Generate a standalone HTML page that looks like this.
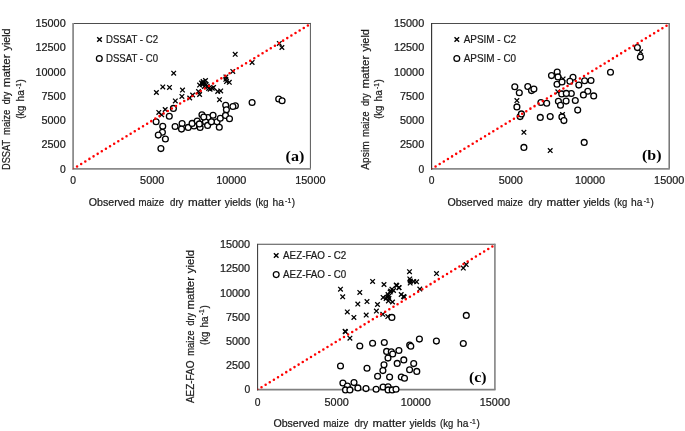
<!DOCTYPE html>
<html><head><meta charset="utf-8"><title>fig</title>
<style>html,body{margin:0;padding:0;background:#fff}svg{display:block}</style></head><body>
<svg width="685" height="431" viewBox="0 0 685 431">
<rect width="685" height="431" fill="#fff"/>
<g opacity="0.999">
<g id="plot-a">
<path d="M73.1 23.4H310.79999999999995" fill="none" stroke="#4d4d4d" stroke-width="1.05"/>
<path d="M310.4 22.9V168.85" fill="none" stroke="#555" stroke-width="1.0"/>
<path d="M72.6 168.85H311.0" fill="none" stroke="#8a8a8a" stroke-width="1.75"/>
<path d="M73.1 22.9V169.65" fill="none" stroke="#8c8c8c" stroke-width="1.8"/>
<text x="65.69999999999999" y="172.6" font-size="10.3" font-family="Liberation Sans, sans-serif" text-anchor="end" fill="#1a1a1a" stroke="#1a1a1a" stroke-width="0.22">0</text>
<text x="65.69999999999999" y="148.36" font-size="10.3" font-family="Liberation Sans, sans-serif" text-anchor="end" fill="#1a1a1a" stroke="#1a1a1a" stroke-width="0.22" textLength="24.16" lengthAdjust="spacingAndGlyphs">2500</text>
<text x="65.69999999999999" y="124.12" font-size="10.3" font-family="Liberation Sans, sans-serif" text-anchor="end" fill="#1a1a1a" stroke="#1a1a1a" stroke-width="0.22" textLength="24.16" lengthAdjust="spacingAndGlyphs">5000</text>
<text x="65.69999999999999" y="99.88" font-size="10.3" font-family="Liberation Sans, sans-serif" text-anchor="end" fill="#1a1a1a" stroke="#1a1a1a" stroke-width="0.22" textLength="24.16" lengthAdjust="spacingAndGlyphs">7500</text>
<text x="65.69999999999999" y="75.63" font-size="10.3" font-family="Liberation Sans, sans-serif" text-anchor="end" fill="#1a1a1a" stroke="#1a1a1a" stroke-width="0.22" textLength="30.2" lengthAdjust="spacingAndGlyphs">10000</text>
<text x="65.69999999999999" y="51.39" font-size="10.3" font-family="Liberation Sans, sans-serif" text-anchor="end" fill="#1a1a1a" stroke="#1a1a1a" stroke-width="0.22" textLength="30.2" lengthAdjust="spacingAndGlyphs">12500</text>
<text x="65.69999999999999" y="27.15" font-size="10.3" font-family="Liberation Sans, sans-serif" text-anchor="end" fill="#1a1a1a" stroke="#1a1a1a" stroke-width="0.22" textLength="30.2" lengthAdjust="spacingAndGlyphs">15000</text>
<text x="73.1" y="184.0" font-size="10.3" font-family="Liberation Sans, sans-serif" text-anchor="middle" fill="#1a1a1a" stroke="#1a1a1a" stroke-width="0.22">0</text>
<text x="152.2" y="184.0" font-size="10.3" font-family="Liberation Sans, sans-serif" text-anchor="middle" fill="#1a1a1a" stroke="#1a1a1a" stroke-width="0.22" textLength="24.16" lengthAdjust="spacingAndGlyphs">5000</text>
<text x="231.3" y="184.0" font-size="10.3" font-family="Liberation Sans, sans-serif" text-anchor="middle" fill="#1a1a1a" stroke="#1a1a1a" stroke-width="0.22" textLength="30.2" lengthAdjust="spacingAndGlyphs">10000</text>
<text x="310.4" y="184.0" font-size="10.3" font-family="Liberation Sans, sans-serif" text-anchor="middle" fill="#1a1a1a" stroke="#1a1a1a" stroke-width="0.22" textLength="30.2" lengthAdjust="spacingAndGlyphs">15000</text>
<g fill="none" stroke="#000" stroke-width="1.3">
<path d="M154.10 90.20L158.70 94.80M154.10 94.80L158.70 90.20"/>
<path d="M160.50 84.60L165.10 89.20M160.50 89.20L165.10 84.60"/>
<path d="M167.20 85.10L171.80 89.70M167.20 89.70L171.80 85.10"/>
<path d="M171.40 70.90L176.00 75.50M171.40 75.50L176.00 70.90"/>
<path d="M180.20 87.80L184.80 92.40M180.20 92.40L184.80 87.80"/>
<path d="M179.60 94.10L184.20 98.70M179.60 98.70L184.20 94.10"/>
<path d="M173.00 98.60L177.60 103.20M173.00 103.20L177.60 98.60"/>
<path d="M162.90 107.20L167.50 111.80M162.90 111.80L167.50 107.20"/>
<path d="M156.50 110.10L161.10 114.70M156.50 114.70L161.10 110.10"/>
<path d="M159.40 112.50L164.00 117.10M159.40 117.10L164.00 112.50"/>
<path d="M187.40 95.70L192.00 100.30M187.40 100.30L192.00 95.70"/>
<path d="M190.30 92.70L194.90 97.30M190.30 97.30L194.90 92.70"/>
<path d="M197.30 92.20L201.90 96.80M197.30 96.80L201.90 92.20"/>
<path d="M196.20 89.20L200.80 93.80M196.20 93.80L200.80 89.20"/>
<path d="M197.30 82.80L201.90 87.40M197.30 87.40L201.90 82.80"/>
<path d="M200.80 79.30L205.40 83.90M200.80 83.90L205.40 79.30"/>
<path d="M202.60 81.10L207.20 85.70M202.60 85.70L207.20 81.10"/>
<path d="M204.90 84.00L209.50 88.60M204.90 88.60L209.50 84.00"/>
<path d="M207.80 86.90L212.40 91.50M207.80 91.50L212.40 86.90"/>
<path d="M211.30 85.10L215.90 89.70M211.30 89.70L215.90 85.10"/>
<path d="M215.40 89.20L220.00 93.80M215.40 93.80L220.00 89.20"/>
<path d="M218.40 88.60L223.00 93.20M218.40 93.20L223.00 88.60"/>
<path d="M217.20 97.40L221.80 102.00M217.20 102.00L221.80 97.40"/>
<path d="M223.60 74.60L228.20 79.20M223.60 79.20L228.20 74.60"/>
<path d="M224.20 79.30L228.80 83.90M224.20 83.90L228.80 79.30"/>
<path d="M227.00 80.00L231.60 84.60M227.00 84.60L231.60 80.00"/>
<path d="M230.50 69.10L235.10 73.70M230.50 73.70L235.10 69.10"/>
<path d="M232.90 52.00L237.50 56.60M232.90 56.60L237.50 52.00"/>
<path d="M249.80 60.10L254.40 64.70M249.80 64.70L254.40 60.10"/>
<path d="M277.00 41.10L281.60 45.70M277.00 45.70L281.60 41.10"/>
<path d="M279.60 45.20L284.20 49.80M279.60 49.80L284.20 45.20"/>
<path d="M199.20 80.70L203.80 85.30M199.20 85.30L203.80 80.70"/>
<path d="M203.20 78.20L207.80 82.80M203.20 82.80L207.80 78.20"/>
<path d="M200.30 81.90L204.90 86.50M200.30 86.50L204.90 81.90"/>
<path d="M202.10 84.10L206.70 88.70M202.10 88.70L206.70 84.10"/>
<path d="M203.90 82.30L208.50 86.90M203.90 86.90L208.50 82.30"/>
<path d="M210.00 85.90L214.60 90.50M210.00 90.50L214.60 85.90"/>
<path d="M206.30 86.10L210.90 90.70M206.30 90.70L210.90 86.10"/>
<path d="M200.90 80.50L205.50 85.10M200.90 85.10L205.50 80.50"/>
<path d="M223.50 77.00L228.10 81.60M223.50 81.60L228.10 77.00"/>
</g>
<g fill="#fff" stroke="#000" stroke-width="1.3">
<circle cx="173.40" cy="108.40" r="2.92"/>
<circle cx="169.30" cy="116.30" r="2.92"/>
<circle cx="156.10" cy="121.80" r="2.92"/>
<circle cx="162.75" cy="126.30" r="2.92"/>
<circle cx="162.40" cy="132.20" r="2.92"/>
<circle cx="158.30" cy="135.10" r="2.92"/>
<circle cx="175.10" cy="126.50" r="2.92"/>
<circle cx="182.10" cy="123.50" r="2.92"/>
<circle cx="181.50" cy="129.10" r="2.92"/>
<circle cx="188.20" cy="127.40" r="2.92"/>
<circle cx="194.00" cy="126.00" r="2.92"/>
<circle cx="192.10" cy="123.40" r="2.92"/>
<circle cx="197.20" cy="121.10" r="2.92"/>
<circle cx="201.95" cy="114.70" r="2.92"/>
<circle cx="208.00" cy="117.50" r="2.92"/>
<circle cx="205.40" cy="121.70" r="2.92"/>
<circle cx="217.05" cy="121.80" r="2.92"/>
<circle cx="200.10" cy="127.40" r="2.92"/>
<circle cx="207.60" cy="125.40" r="2.92"/>
<circle cx="203.75" cy="117.10" r="2.92"/>
<circle cx="213.05" cy="115.30" r="2.92"/>
<circle cx="211.40" cy="121.85" r="2.92"/>
<circle cx="199.35" cy="123.90" r="2.92"/>
<circle cx="220.30" cy="118.20" r="2.92"/>
<circle cx="219.30" cy="127.20" r="2.92"/>
<circle cx="225.70" cy="105.20" r="2.92"/>
<circle cx="226.40" cy="109.70" r="2.92"/>
<circle cx="225.50" cy="115.40" r="2.92"/>
<circle cx="229.50" cy="118.70" r="2.92"/>
<circle cx="235.40" cy="105.70" r="2.92"/>
<circle cx="232.90" cy="106.50" r="2.92"/>
<circle cx="252.10" cy="102.50" r="2.92"/>
<circle cx="278.70" cy="99.00" r="2.92"/>
<circle cx="282.10" cy="100.80" r="2.92"/>
<circle cx="165.40" cy="139.00" r="2.92"/>
<circle cx="160.90" cy="148.60" r="2.92"/>
</g>
<clipPath id="cp-a"><rect x="73.1" y="23.4" width="237.30" height="145.45"/></clipPath>
<path clip-path="url(#cp-a)" d="M72.95 168.95L310.40 24.00" fill="none" stroke="#ff0000" stroke-width="2.55" stroke-linecap="round" stroke-dasharray="0 4.829"/>
<g fill="none" stroke="#000" stroke-width="1.4"><path d="M97.20 37.20L101.80 41.80M97.20 41.80L101.80 37.20"/></g>
<text x="106.0" y="42.7" font-size="10.5" font-family="Liberation Sans, sans-serif" text-anchor="start" fill="#1a1a1a" stroke="#1a1a1a" stroke-width="0.22" textLength="52.0" lengthAdjust="spacingAndGlyphs">DSSAT - C2</text>
<g fill="none" stroke="#000" stroke-width="1.25"><circle cx="99.30" cy="58.50" r="2.9"/></g>
<text x="106.0" y="61.8" font-size="10.5" font-family="Liberation Sans, sans-serif" text-anchor="start" fill="#1a1a1a" stroke="#1a1a1a" stroke-width="0.22" textLength="52.0" lengthAdjust="spacingAndGlyphs">DSSAT - C0</text>
<text x="285.59999999999997" y="160.85" font-size="15.4" font-family="Liberation Serif, sans-serif" text-anchor="start" fill="#000" font-weight="bold" textLength="18.8" lengthAdjust="spacingAndGlyphs">(a)</text>
</g>
<g id="plot-b">
<path d="M431.6 23.5H669.6" fill="none" stroke="#4d4d4d" stroke-width="1.05"/>
<path d="M669.2 23.0V168.85" fill="none" stroke="#6e6e6e" stroke-width="1.45"/>
<path d="M431.1 168.85H669.8000000000001" fill="none" stroke="#8a8a8a" stroke-width="1.75"/>
<path d="M431.6 23.0V169.65" fill="none" stroke="#333333" stroke-width="1.15"/>
<text x="424.20000000000005" y="172.6" font-size="10.3" font-family="Liberation Sans, sans-serif" text-anchor="end" fill="#1a1a1a" stroke="#1a1a1a" stroke-width="0.22">0</text>
<text x="424.20000000000005" y="148.38" font-size="10.3" font-family="Liberation Sans, sans-serif" text-anchor="end" fill="#1a1a1a" stroke="#1a1a1a" stroke-width="0.22" textLength="24.16" lengthAdjust="spacingAndGlyphs">2500</text>
<text x="424.20000000000005" y="124.15" font-size="10.3" font-family="Liberation Sans, sans-serif" text-anchor="end" fill="#1a1a1a" stroke="#1a1a1a" stroke-width="0.22" textLength="24.16" lengthAdjust="spacingAndGlyphs">5000</text>
<text x="424.20000000000005" y="99.92" font-size="10.3" font-family="Liberation Sans, sans-serif" text-anchor="end" fill="#1a1a1a" stroke="#1a1a1a" stroke-width="0.22" textLength="24.16" lengthAdjust="spacingAndGlyphs">7500</text>
<text x="424.20000000000005" y="75.7" font-size="10.3" font-family="Liberation Sans, sans-serif" text-anchor="end" fill="#1a1a1a" stroke="#1a1a1a" stroke-width="0.22" textLength="30.2" lengthAdjust="spacingAndGlyphs">10000</text>
<text x="424.20000000000005" y="51.47" font-size="10.3" font-family="Liberation Sans, sans-serif" text-anchor="end" fill="#1a1a1a" stroke="#1a1a1a" stroke-width="0.22" textLength="30.2" lengthAdjust="spacingAndGlyphs">12500</text>
<text x="424.20000000000005" y="27.25" font-size="10.3" font-family="Liberation Sans, sans-serif" text-anchor="end" fill="#1a1a1a" stroke="#1a1a1a" stroke-width="0.22" textLength="30.2" lengthAdjust="spacingAndGlyphs">15000</text>
<text x="431.6" y="184.0" font-size="10.3" font-family="Liberation Sans, sans-serif" text-anchor="middle" fill="#1a1a1a" stroke="#1a1a1a" stroke-width="0.22">0</text>
<text x="510.8" y="184.0" font-size="10.3" font-family="Liberation Sans, sans-serif" text-anchor="middle" fill="#1a1a1a" stroke="#1a1a1a" stroke-width="0.22" textLength="24.16" lengthAdjust="spacingAndGlyphs">5000</text>
<text x="590.0" y="184.0" font-size="10.3" font-family="Liberation Sans, sans-serif" text-anchor="middle" fill="#1a1a1a" stroke="#1a1a1a" stroke-width="0.22" textLength="30.2" lengthAdjust="spacingAndGlyphs">10000</text>
<text x="669.2" y="184.0" font-size="10.3" font-family="Liberation Sans, sans-serif" text-anchor="middle" fill="#1a1a1a" stroke="#1a1a1a" stroke-width="0.22" textLength="30.2" lengthAdjust="spacingAndGlyphs">15000</text>
<g fill="none" stroke="#000" stroke-width="1.3">
<path d="M514.60 98.30L519.20 102.90M514.60 102.90L519.20 98.30"/>
<path d="M555.50 89.50L560.10 94.10M555.50 94.10L560.10 89.50"/>
<path d="M560.80 76.60L565.40 81.20M560.80 81.20L565.40 76.60"/>
<path d="M521.60 130.00L526.20 134.60M521.60 134.60L526.20 130.00"/>
<path d="M547.90 148.30L552.50 152.90M547.90 152.90L552.50 148.30"/>
<path d="M560.20 112.20L564.80 116.80M560.20 116.80L564.80 112.20"/>
<path d="M638.30 49.50L642.90 54.10M638.30 54.10L642.90 49.50"/>
</g>
<g fill="#fff" stroke="#000" stroke-width="1.3">
<circle cx="514.80" cy="86.80" r="2.92"/>
<circle cx="519.30" cy="92.80" r="2.92"/>
<circle cx="527.80" cy="86.50" r="2.92"/>
<circle cx="531.50" cy="90.60" r="2.92"/>
<circle cx="533.90" cy="89.10" r="2.92"/>
<circle cx="551.50" cy="75.60" r="2.92"/>
<circle cx="557.20" cy="72.00" r="2.92"/>
<circle cx="558.00" cy="76.90" r="2.92"/>
<circle cx="557.00" cy="84.30" r="2.92"/>
<circle cx="562.00" cy="82.00" r="2.92"/>
<circle cx="573.00" cy="77.30" r="2.92"/>
<circle cx="569.90" cy="81.20" r="2.92"/>
<circle cx="578.80" cy="85.10" r="2.92"/>
<circle cx="561.70" cy="93.90" r="2.92"/>
<circle cx="571.30" cy="93.50" r="2.92"/>
<circle cx="566.30" cy="93.40" r="2.92"/>
<circle cx="558.40" cy="101.20" r="2.92"/>
<circle cx="566.10" cy="101.10" r="2.92"/>
<circle cx="575.30" cy="100.50" r="2.92"/>
<circle cx="540.90" cy="102.50" r="2.92"/>
<circle cx="546.70" cy="103.30" r="2.92"/>
<circle cx="516.90" cy="106.90" r="2.92"/>
<circle cx="520.10" cy="116.60" r="2.92"/>
<circle cx="521.40" cy="113.90" r="2.92"/>
<circle cx="540.30" cy="117.40" r="2.92"/>
<circle cx="550.20" cy="116.60" r="2.92"/>
<circle cx="560.50" cy="105.20" r="2.92"/>
<circle cx="577.70" cy="110.10" r="2.92"/>
<circle cx="561.90" cy="116.90" r="2.92"/>
<circle cx="563.90" cy="120.60" r="2.92"/>
<circle cx="584.60" cy="80.70" r="2.92"/>
<circle cx="591.00" cy="80.50" r="2.92"/>
<circle cx="610.50" cy="72.20" r="2.92"/>
<circle cx="587.80" cy="91.20" r="2.92"/>
<circle cx="583.40" cy="94.90" r="2.92"/>
<circle cx="593.70" cy="95.90" r="2.92"/>
<circle cx="637.40" cy="47.60" r="2.92"/>
<circle cx="640.40" cy="57.10" r="2.92"/>
<circle cx="584.20" cy="142.40" r="2.92"/>
<circle cx="523.90" cy="147.40" r="2.92"/>
</g>
<clipPath id="cp-b"><rect x="431.6" y="23.5" width="237.60" height="145.35"/></clipPath>
<path clip-path="url(#cp-b)" d="M431.45 168.95L669.20 24.10" fill="none" stroke="#ff0000" stroke-width="2.55" stroke-linecap="round" stroke-dasharray="0 4.829"/>
<g fill="none" stroke="#000" stroke-width="1.4"><path d="M454.50 37.20L459.10 41.80M454.50 41.80L459.10 37.20"/></g>
<text x="463.65" y="42.7" font-size="10.5" font-family="Liberation Sans, sans-serif" text-anchor="start" fill="#1a1a1a" stroke="#1a1a1a" stroke-width="0.22" textLength="52.5" lengthAdjust="spacingAndGlyphs">APSIM - C2</text>
<g fill="none" stroke="#000" stroke-width="1.25"><circle cx="456.80" cy="58.50" r="2.9"/></g>
<text x="463.65" y="61.8" font-size="10.5" font-family="Liberation Sans, sans-serif" text-anchor="start" fill="#1a1a1a" stroke="#1a1a1a" stroke-width="0.22" textLength="52.5" lengthAdjust="spacingAndGlyphs">APSIM - C0</text>
<text x="642.0" y="160.35" font-size="15.4" font-family="Liberation Serif, sans-serif" text-anchor="start" fill="#000" font-weight="bold" textLength="19.5" lengthAdjust="spacingAndGlyphs">(b)</text>
</g>
<g id="plot-c">
<path d="M257.55 244.3H495.29999999999995" fill="none" stroke="#4d4d4d" stroke-width="1.05"/>
<path d="M494.9 243.8V389.65" fill="none" stroke="#8a8a8a" stroke-width="1.7"/>
<path d="M257.05 389.65H495.5" fill="none" stroke="#808080" stroke-width="1.7"/>
<path d="M257.55 243.8V390.45" fill="none" stroke="#444444" stroke-width="1.15"/>
<text x="250.15" y="393.4" font-size="10.3" font-family="Liberation Sans, sans-serif" text-anchor="end" fill="#1a1a1a" stroke="#1a1a1a" stroke-width="0.22">0</text>
<text x="250.15" y="369.17" font-size="10.3" font-family="Liberation Sans, sans-serif" text-anchor="end" fill="#1a1a1a" stroke="#1a1a1a" stroke-width="0.22" textLength="24.16" lengthAdjust="spacingAndGlyphs">2500</text>
<text x="250.15" y="344.95" font-size="10.3" font-family="Liberation Sans, sans-serif" text-anchor="end" fill="#1a1a1a" stroke="#1a1a1a" stroke-width="0.22" textLength="24.16" lengthAdjust="spacingAndGlyphs">5000</text>
<text x="250.15" y="320.73" font-size="10.3" font-family="Liberation Sans, sans-serif" text-anchor="end" fill="#1a1a1a" stroke="#1a1a1a" stroke-width="0.22" textLength="24.16" lengthAdjust="spacingAndGlyphs">7500</text>
<text x="250.15" y="296.5" font-size="10.3" font-family="Liberation Sans, sans-serif" text-anchor="end" fill="#1a1a1a" stroke="#1a1a1a" stroke-width="0.22" textLength="30.2" lengthAdjust="spacingAndGlyphs">10000</text>
<text x="250.15" y="272.28" font-size="10.3" font-family="Liberation Sans, sans-serif" text-anchor="end" fill="#1a1a1a" stroke="#1a1a1a" stroke-width="0.22" textLength="30.2" lengthAdjust="spacingAndGlyphs">12500</text>
<text x="250.15" y="248.05" font-size="10.3" font-family="Liberation Sans, sans-serif" text-anchor="end" fill="#1a1a1a" stroke="#1a1a1a" stroke-width="0.22" textLength="30.2" lengthAdjust="spacingAndGlyphs">15000</text>
<text x="257.55" y="405.65" font-size="10.3" font-family="Liberation Sans, sans-serif" text-anchor="middle" fill="#1a1a1a" stroke="#1a1a1a" stroke-width="0.22">0</text>
<text x="336.67" y="405.65" font-size="10.3" font-family="Liberation Sans, sans-serif" text-anchor="middle" fill="#1a1a1a" stroke="#1a1a1a" stroke-width="0.22" textLength="24.16" lengthAdjust="spacingAndGlyphs">5000</text>
<text x="415.78" y="405.65" font-size="10.3" font-family="Liberation Sans, sans-serif" text-anchor="middle" fill="#1a1a1a" stroke="#1a1a1a" stroke-width="0.22" textLength="30.2" lengthAdjust="spacingAndGlyphs">10000</text>
<text x="494.9" y="405.65" font-size="10.3" font-family="Liberation Sans, sans-serif" text-anchor="middle" fill="#1a1a1a" stroke="#1a1a1a" stroke-width="0.22" textLength="30.2" lengthAdjust="spacingAndGlyphs">15000</text>
<g fill="none" stroke="#000" stroke-width="1.3">
<path d="M338.20 286.90L342.80 291.50M338.20 291.50L342.80 286.90"/>
<path d="M340.40 294.50L345.00 299.10M340.40 299.10L345.00 294.50"/>
<path d="M357.50 290.10L362.10 294.70M357.50 294.70L362.10 290.10"/>
<path d="M355.50 301.80L360.10 306.40M355.50 306.40L360.10 301.80"/>
<path d="M364.70 299.30L369.30 303.90M364.70 303.90L369.30 299.30"/>
<path d="M370.30 279.10L374.90 283.70M370.30 283.70L374.90 279.10"/>
<path d="M381.70 282.20L386.30 286.80M381.70 286.80L386.30 282.20"/>
<path d="M375.20 302.20L379.80 306.80M375.20 306.80L379.80 302.20"/>
<path d="M380.80 295.10L385.40 299.70M380.80 299.70L385.40 295.10"/>
<path d="M383.80 296.20L388.40 300.80M383.80 300.80L388.40 296.20"/>
<path d="M385.70 292.20L390.30 296.80M385.70 296.80L390.30 292.20"/>
<path d="M386.70 296.20L391.30 300.80M386.70 300.80L391.30 296.20"/>
<path d="M387.80 289.80L392.40 294.40M387.80 294.40L392.40 289.80"/>
<path d="M389.60 286.90L394.20 291.50M389.60 291.50L394.20 286.90"/>
<path d="M391.20 288.20L395.80 292.80M391.20 292.80L395.80 288.20"/>
<path d="M393.90 282.80L398.50 287.40M393.90 287.40L398.50 282.80"/>
<path d="M396.60 285.50L401.20 290.10M396.60 290.10L401.20 285.50"/>
<path d="M398.90 292.20L403.50 296.80M398.90 296.80L403.50 292.20"/>
<path d="M401.90 294.70L406.50 299.30M401.90 299.30L406.50 294.70"/>
<path d="M390.20 299.70L394.80 304.30M390.20 304.30L394.80 299.70"/>
<path d="M386.10 298.60L390.70 303.20M386.10 303.20L390.70 298.60"/>
<path d="M407.20 269.40L411.80 274.00M407.20 274.00L411.80 269.40"/>
<path d="M407.50 276.60L412.10 281.20M407.50 281.20L412.10 276.60"/>
<path d="M407.90 280.80L412.50 285.40M407.90 285.40L412.50 280.80"/>
<path d="M411.40 279.20L416.00 283.80M411.40 283.80L416.00 279.20"/>
<path d="M414.30 279.50L418.90 284.10M414.30 284.10L418.90 279.50"/>
<path d="M417.50 286.80L422.10 291.40M417.50 291.40L422.10 286.80"/>
<path d="M434.20 271.30L438.80 275.90M434.20 275.90L438.80 271.30"/>
<path d="M461.00 265.80L465.60 270.40M461.00 270.40L465.60 265.80"/>
<path d="M463.90 262.30L468.50 266.90M463.90 266.90L468.50 262.30"/>
<path d="M394.50 283.30L399.10 287.90M394.50 287.90L399.10 283.30"/>
<path d="M396.80 285.30L401.40 289.90M396.80 289.90L401.40 285.30"/>
<path d="M345.00 309.60L349.60 314.20M345.00 314.20L349.60 309.60"/>
<path d="M351.60 315.10L356.20 319.70M351.60 319.70L356.20 315.10"/>
<path d="M363.90 312.80L368.50 317.40M363.90 317.40L368.50 312.80"/>
<path d="M374.10 308.80L378.70 313.40M374.10 313.40L378.70 308.80"/>
<path d="M380.50 312.00L385.10 316.60M380.50 316.60L385.10 312.00"/>
<path d="M385.50 314.30L390.10 318.90M385.50 318.90L390.10 314.30"/>
<path d="M343.20 329.50L347.80 334.10M343.20 334.10L347.80 329.50"/>
<path d="M347.60 335.90L352.20 340.50M347.60 340.50L352.20 335.90"/>
<path d="M342.80 329.00L347.40 333.60M342.80 333.60L347.40 329.00"/>
<path d="M386.30 294.00L390.90 298.60M386.30 298.60L390.90 294.00"/>
<path d="M388.40 288.70L393.00 293.30M388.40 293.30L393.00 288.70"/>
<path d="M385.00 294.90L389.60 299.50M385.00 299.50L389.60 294.90"/>
<path d="M401.30 294.10L405.90 298.70M401.30 298.70L405.90 294.10"/>
<path d="M408.00 278.70L412.60 283.30M408.00 283.30L412.60 278.70"/>
</g>
<g fill="#fff" stroke="#000" stroke-width="1.3">
<circle cx="391.90" cy="317.40" r="2.92"/>
<circle cx="359.80" cy="346.00" r="2.92"/>
<circle cx="372.60" cy="343.20" r="2.92"/>
<circle cx="384.30" cy="342.50" r="2.92"/>
<circle cx="409.70" cy="345.00" r="2.92"/>
<circle cx="410.80" cy="346.30" r="2.92"/>
<circle cx="386.60" cy="351.40" r="2.92"/>
<circle cx="391.30" cy="351.70" r="2.92"/>
<circle cx="392.70" cy="354.00" r="2.92"/>
<circle cx="398.90" cy="350.50" r="2.92"/>
<circle cx="388.00" cy="358.10" r="2.92"/>
<circle cx="403.80" cy="359.90" r="2.92"/>
<circle cx="397.20" cy="363.40" r="2.92"/>
<circle cx="384.00" cy="364.80" r="2.92"/>
<circle cx="382.90" cy="370.60" r="2.92"/>
<circle cx="367.00" cy="368.30" r="2.92"/>
<circle cx="340.50" cy="366.00" r="2.92"/>
<circle cx="377.60" cy="376.30" r="2.92"/>
<circle cx="389.60" cy="377.10" r="2.92"/>
<circle cx="401.30" cy="377.00" r="2.92"/>
<circle cx="404.50" cy="378.30" r="2.92"/>
<circle cx="409.60" cy="369.80" r="2.92"/>
<circle cx="342.90" cy="383.00" r="2.92"/>
<circle cx="347.40" cy="386.00" r="2.92"/>
<circle cx="345.50" cy="389.90" r="2.92"/>
<circle cx="349.90" cy="389.90" r="2.92"/>
<circle cx="354.00" cy="382.60" r="2.92"/>
<circle cx="357.90" cy="387.90" r="2.92"/>
<circle cx="366.00" cy="388.60" r="2.92"/>
<circle cx="376.10" cy="389.30" r="2.92"/>
<circle cx="383.10" cy="387.00" r="2.92"/>
<circle cx="388.10" cy="386.80" r="2.92"/>
<circle cx="388.10" cy="389.90" r="2.92"/>
<circle cx="392.20" cy="389.90" r="2.92"/>
<circle cx="396.00" cy="389.30" r="2.92"/>
<circle cx="466.30" cy="315.40" r="2.92"/>
<circle cx="419.40" cy="339.10" r="2.92"/>
<circle cx="436.40" cy="341.10" r="2.92"/>
<circle cx="463.30" cy="343.50" r="2.92"/>
<circle cx="413.70" cy="363.60" r="2.92"/>
<circle cx="416.80" cy="371.40" r="2.92"/>
</g>
<clipPath id="cp-c"><rect x="257.55" y="244.3" width="237.35" height="145.35"/></clipPath>
<path clip-path="url(#cp-c)" d="M257.40 389.75L494.90 244.90" fill="none" stroke="#ff0000" stroke-width="2.55" stroke-linecap="round" stroke-dasharray="0 4.829"/>
<g fill="none" stroke="#000" stroke-width="1.4"><path d="M273.90 253.20L278.50 257.80M273.90 257.80L278.50 253.20"/></g>
<text x="283.1" y="258.8" font-size="10.5" font-family="Liberation Sans, sans-serif" text-anchor="start" fill="#1a1a1a" stroke="#1a1a1a" stroke-width="0.22" textLength="63.1" lengthAdjust="spacingAndGlyphs">AEZ-FAO - C2</text>
<g fill="none" stroke="#000" stroke-width="1.25"><circle cx="276.20" cy="274.60" r="2.9"/></g>
<text x="283.1" y="277.8" font-size="10.5" font-family="Liberation Sans, sans-serif" text-anchor="start" fill="#1a1a1a" stroke="#1a1a1a" stroke-width="0.22" textLength="63.1" lengthAdjust="spacingAndGlyphs">AEZ-FAO - C0</text>
<text x="468.9" y="381.65" font-size="15.4" font-family="Liberation Serif, sans-serif" text-anchor="start" fill="#000" font-weight="bold" textLength="17.6" lengthAdjust="spacingAndGlyphs">(c)</text>
</g>
<g transform="translate(88.8 206.4)"><text x="0" y="0" font-size="10.5" font-family="Liberation Sans, sans-serif" text-anchor="start" fill="#1a1a1a" stroke="#1a1a1a" stroke-width="0.22" textLength="46.0" lengthAdjust="spacingAndGlyphs">Observed</text><text x="49.8" y="0" font-size="10.5" font-family="Liberation Sans, sans-serif" text-anchor="start" fill="#1a1a1a" stroke="#1a1a1a" stroke-width="0.22" textLength="25.6" lengthAdjust="spacingAndGlyphs">maize</text><text x="81.2" y="0" font-size="10.5" font-family="Liberation Sans, sans-serif" text-anchor="start" fill="#1a1a1a" stroke="#1a1a1a" stroke-width="0.22" textLength="13.5" lengthAdjust="spacingAndGlyphs">dry</text><text x="99.2" y="0" font-size="10.5" font-family="Liberation Sans, sans-serif" text-anchor="start" fill="#1a1a1a" stroke="#1a1a1a" stroke-width="0.22" textLength="33.2" lengthAdjust="spacingAndGlyphs">matter</text><text x="136.0" y="0" font-size="10.5" font-family="Liberation Sans, sans-serif" text-anchor="start" fill="#1a1a1a" stroke="#1a1a1a" stroke-width="0.22" textLength="26.4" lengthAdjust="spacingAndGlyphs">yields</text><text x="166.6" y="0" font-size="10.5" font-family="Liberation Sans, sans-serif" text-anchor="start" fill="#1a1a1a" stroke="#1a1a1a" stroke-width="0.22" textLength="13.2" lengthAdjust="spacingAndGlyphs">(kg</text><text x="183.7" y="0" font-size="10.5" font-family="Liberation Sans, sans-serif" text-anchor="start" fill="#1a1a1a" stroke="#1a1a1a" stroke-width="0.22" textLength="11.4" lengthAdjust="spacingAndGlyphs">ha</text><text x="196.3" y="-3.8" font-size="7.4" font-family="Liberation Sans, sans-serif" text-anchor="start" fill="#1a1a1a" stroke="#1a1a1a" stroke-width="0.22" textLength="6.1" lengthAdjust="spacingAndGlyphs">-1</text><text x="203.0" y="0" font-size="10.5" font-family="Liberation Sans, sans-serif" text-anchor="start" fill="#1a1a1a" stroke="#1a1a1a" stroke-width="0.22" textLength="3.3" lengthAdjust="spacingAndGlyphs">)</text></g>
<g transform="translate(447.4 206.4)"><text x="0" y="0" font-size="10.5" font-family="Liberation Sans, sans-serif" text-anchor="start" fill="#1a1a1a" stroke="#1a1a1a" stroke-width="0.22" textLength="46.0" lengthAdjust="spacingAndGlyphs">Observed</text><text x="49.8" y="0" font-size="10.5" font-family="Liberation Sans, sans-serif" text-anchor="start" fill="#1a1a1a" stroke="#1a1a1a" stroke-width="0.22" textLength="25.6" lengthAdjust="spacingAndGlyphs">maize</text><text x="81.2" y="0" font-size="10.5" font-family="Liberation Sans, sans-serif" text-anchor="start" fill="#1a1a1a" stroke="#1a1a1a" stroke-width="0.22" textLength="13.5" lengthAdjust="spacingAndGlyphs">dry</text><text x="99.2" y="0" font-size="10.5" font-family="Liberation Sans, sans-serif" text-anchor="start" fill="#1a1a1a" stroke="#1a1a1a" stroke-width="0.22" textLength="33.2" lengthAdjust="spacingAndGlyphs">matter</text><text x="136.0" y="0" font-size="10.5" font-family="Liberation Sans, sans-serif" text-anchor="start" fill="#1a1a1a" stroke="#1a1a1a" stroke-width="0.22" textLength="26.4" lengthAdjust="spacingAndGlyphs">yields</text><text x="166.6" y="0" font-size="10.5" font-family="Liberation Sans, sans-serif" text-anchor="start" fill="#1a1a1a" stroke="#1a1a1a" stroke-width="0.22" textLength="13.2" lengthAdjust="spacingAndGlyphs">(kg</text><text x="183.7" y="0" font-size="10.5" font-family="Liberation Sans, sans-serif" text-anchor="start" fill="#1a1a1a" stroke="#1a1a1a" stroke-width="0.22" textLength="11.4" lengthAdjust="spacingAndGlyphs">ha</text><text x="196.3" y="-3.8" font-size="7.4" font-family="Liberation Sans, sans-serif" text-anchor="start" fill="#1a1a1a" stroke="#1a1a1a" stroke-width="0.22" textLength="6.1" lengthAdjust="spacingAndGlyphs">-1</text><text x="203.0" y="0" font-size="10.5" font-family="Liberation Sans, sans-serif" text-anchor="start" fill="#1a1a1a" stroke="#1a1a1a" stroke-width="0.22" textLength="3.3" lengthAdjust="spacingAndGlyphs">)</text></g>
<g transform="translate(273.4 427.4)"><text x="0" y="0" font-size="10.5" font-family="Liberation Sans, sans-serif" text-anchor="start" fill="#1a1a1a" stroke="#1a1a1a" stroke-width="0.22" textLength="46.0" lengthAdjust="spacingAndGlyphs">Observed</text><text x="49.8" y="0" font-size="10.5" font-family="Liberation Sans, sans-serif" text-anchor="start" fill="#1a1a1a" stroke="#1a1a1a" stroke-width="0.22" textLength="25.6" lengthAdjust="spacingAndGlyphs">maize</text><text x="81.2" y="0" font-size="10.5" font-family="Liberation Sans, sans-serif" text-anchor="start" fill="#1a1a1a" stroke="#1a1a1a" stroke-width="0.22" textLength="13.5" lengthAdjust="spacingAndGlyphs">dry</text><text x="99.2" y="0" font-size="10.5" font-family="Liberation Sans, sans-serif" text-anchor="start" fill="#1a1a1a" stroke="#1a1a1a" stroke-width="0.22" textLength="33.2" lengthAdjust="spacingAndGlyphs">matter</text><text x="136.0" y="0" font-size="10.5" font-family="Liberation Sans, sans-serif" text-anchor="start" fill="#1a1a1a" stroke="#1a1a1a" stroke-width="0.22" textLength="26.4" lengthAdjust="spacingAndGlyphs">yields</text><text x="166.6" y="0" font-size="10.5" font-family="Liberation Sans, sans-serif" text-anchor="start" fill="#1a1a1a" stroke="#1a1a1a" stroke-width="0.22" textLength="13.2" lengthAdjust="spacingAndGlyphs">(kg</text><text x="183.7" y="0" font-size="10.5" font-family="Liberation Sans, sans-serif" text-anchor="start" fill="#1a1a1a" stroke="#1a1a1a" stroke-width="0.22" textLength="11.4" lengthAdjust="spacingAndGlyphs">ha</text><text x="196.3" y="-3.8" font-size="7.4" font-family="Liberation Sans, sans-serif" text-anchor="start" fill="#1a1a1a" stroke="#1a1a1a" stroke-width="0.22" textLength="6.1" lengthAdjust="spacingAndGlyphs">-1</text><text x="203.0" y="0" font-size="10.5" font-family="Liberation Sans, sans-serif" text-anchor="start" fill="#1a1a1a" stroke="#1a1a1a" stroke-width="0.22" textLength="3.3" lengthAdjust="spacingAndGlyphs">)</text></g>
<g transform="translate(10.2 170.0) rotate(-90)"><text x="0" y="0" font-size="10.5" font-family="Liberation Sans, sans-serif" text-anchor="start" fill="#1a1a1a" stroke="#1a1a1a" stroke-width="0.22" textLength="30.2" lengthAdjust="spacingAndGlyphs">DSSAT</text><text x="35.0" y="0" font-size="10.5" font-family="Liberation Sans, sans-serif" text-anchor="start" fill="#1a1a1a" stroke="#1a1a1a" stroke-width="0.22" textLength="25.3" lengthAdjust="spacingAndGlyphs">maize</text><text x="65.8" y="0" font-size="10.5" font-family="Liberation Sans, sans-serif" text-anchor="start" fill="#1a1a1a" stroke="#1a1a1a" stroke-width="0.22" textLength="12.4" lengthAdjust="spacingAndGlyphs">dry</text><text x="82.7" y="0" font-size="10.5" font-family="Liberation Sans, sans-serif" text-anchor="start" fill="#1a1a1a" stroke="#1a1a1a" stroke-width="0.22" textLength="33.0" lengthAdjust="spacingAndGlyphs">matter</text><text x="119.6" y="0" font-size="10.5" font-family="Liberation Sans, sans-serif" text-anchor="start" fill="#1a1a1a" stroke="#1a1a1a" stroke-width="0.22" textLength="21.8" lengthAdjust="spacingAndGlyphs">yield</text></g><g transform="translate(24.3 118.6) rotate(-90)"><text x="-0.2" y="0" font-size="10.5" font-family="Liberation Sans, sans-serif" text-anchor="start" fill="#1a1a1a" stroke="#1a1a1a" stroke-width="0.22" textLength="13.2" lengthAdjust="spacingAndGlyphs">(kg</text><text x="17.2" y="0" font-size="10.5" font-family="Liberation Sans, sans-serif" text-anchor="start" fill="#1a1a1a" stroke="#1a1a1a" stroke-width="0.22" textLength="11.2" lengthAdjust="spacingAndGlyphs">ha</text><text x="29.5" y="-3.7" font-size="7.4" font-family="Liberation Sans, sans-serif" text-anchor="start" fill="#1a1a1a" stroke="#1a1a1a" stroke-width="0.22" textLength="6.1" lengthAdjust="spacingAndGlyphs">-1</text><text x="36.2" y="0" font-size="10.5" font-family="Liberation Sans, sans-serif" text-anchor="start" fill="#1a1a1a" stroke="#1a1a1a" stroke-width="0.22" textLength="3.4" lengthAdjust="spacingAndGlyphs">)</text></g>
<g transform="translate(368.9 169.7) rotate(-90)"><text x="0" y="0" font-size="10.5" font-family="Liberation Sans, sans-serif" text-anchor="start" fill="#1a1a1a" stroke="#1a1a1a" stroke-width="0.22" textLength="28.4" lengthAdjust="spacingAndGlyphs">Apsim</text><text x="32.7" y="0" font-size="10.5" font-family="Liberation Sans, sans-serif" text-anchor="start" fill="#1a1a1a" stroke="#1a1a1a" stroke-width="0.22" textLength="25.5" lengthAdjust="spacingAndGlyphs">maize</text><text x="63.7" y="0" font-size="10.5" font-family="Liberation Sans, sans-serif" text-anchor="start" fill="#1a1a1a" stroke="#1a1a1a" stroke-width="0.22" textLength="12.6" lengthAdjust="spacingAndGlyphs">dry</text><text x="81.2" y="0" font-size="10.5" font-family="Liberation Sans, sans-serif" text-anchor="start" fill="#1a1a1a" stroke="#1a1a1a" stroke-width="0.22" textLength="32.8" lengthAdjust="spacingAndGlyphs">matter</text><text x="118.2" y="0" font-size="10.5" font-family="Liberation Sans, sans-serif" text-anchor="start" fill="#1a1a1a" stroke="#1a1a1a" stroke-width="0.22" textLength="22.4" lengthAdjust="spacingAndGlyphs">yield</text></g><g transform="translate(382.3 118.6) rotate(-90)"><text x="-0.2" y="0" font-size="10.5" font-family="Liberation Sans, sans-serif" text-anchor="start" fill="#1a1a1a" stroke="#1a1a1a" stroke-width="0.22" textLength="13.2" lengthAdjust="spacingAndGlyphs">(kg</text><text x="17.2" y="0" font-size="10.5" font-family="Liberation Sans, sans-serif" text-anchor="start" fill="#1a1a1a" stroke="#1a1a1a" stroke-width="0.22" textLength="11.2" lengthAdjust="spacingAndGlyphs">ha</text><text x="29.5" y="-3.7" font-size="7.4" font-family="Liberation Sans, sans-serif" text-anchor="start" fill="#1a1a1a" stroke="#1a1a1a" stroke-width="0.22" textLength="6.1" lengthAdjust="spacingAndGlyphs">-1</text><text x="36.2" y="0" font-size="10.5" font-family="Liberation Sans, sans-serif" text-anchor="start" fill="#1a1a1a" stroke="#1a1a1a" stroke-width="0.22" textLength="3.4" lengthAdjust="spacingAndGlyphs">)</text></g>
<g transform="translate(194.4 403.1) rotate(-90)"><text x="0" y="0" font-size="10.5" font-family="Liberation Sans, sans-serif" text-anchor="start" fill="#1a1a1a" stroke="#1a1a1a" stroke-width="0.22" textLength="42.6" lengthAdjust="spacingAndGlyphs">AEZ-FAO</text><text x="47.3" y="0" font-size="10.5" font-family="Liberation Sans, sans-serif" text-anchor="start" fill="#1a1a1a" stroke="#1a1a1a" stroke-width="0.22" textLength="25.3" lengthAdjust="spacingAndGlyphs">maize</text><text x="77.6" y="0" font-size="10.5" font-family="Liberation Sans, sans-serif" text-anchor="start" fill="#1a1a1a" stroke="#1a1a1a" stroke-width="0.22" textLength="12.4" lengthAdjust="spacingAndGlyphs">dry</text><text x="93.6" y="0" font-size="10.5" font-family="Liberation Sans, sans-serif" text-anchor="start" fill="#1a1a1a" stroke="#1a1a1a" stroke-width="0.22" textLength="32.6" lengthAdjust="spacingAndGlyphs">matter</text><text x="129.9" y="0" font-size="10.5" font-family="Liberation Sans, sans-serif" text-anchor="start" fill="#1a1a1a" stroke="#1a1a1a" stroke-width="0.22" textLength="23.4" lengthAdjust="spacingAndGlyphs">yield</text></g><g transform="translate(207.5 344.7) rotate(-90)"><text x="-0.2" y="0" font-size="10.5" font-family="Liberation Sans, sans-serif" text-anchor="start" fill="#1a1a1a" stroke="#1a1a1a" stroke-width="0.22" textLength="13.2" lengthAdjust="spacingAndGlyphs">(kg</text><text x="17.2" y="0" font-size="10.5" font-family="Liberation Sans, sans-serif" text-anchor="start" fill="#1a1a1a" stroke="#1a1a1a" stroke-width="0.22" textLength="11.2" lengthAdjust="spacingAndGlyphs">ha</text><text x="29.5" y="-3.7" font-size="7.4" font-family="Liberation Sans, sans-serif" text-anchor="start" fill="#1a1a1a" stroke="#1a1a1a" stroke-width="0.22" textLength="6.1" lengthAdjust="spacingAndGlyphs">-1</text><text x="36.2" y="0" font-size="10.5" font-family="Liberation Sans, sans-serif" text-anchor="start" fill="#1a1a1a" stroke="#1a1a1a" stroke-width="0.22" textLength="3.4" lengthAdjust="spacingAndGlyphs">)</text></g>
</g></svg></body></html>
